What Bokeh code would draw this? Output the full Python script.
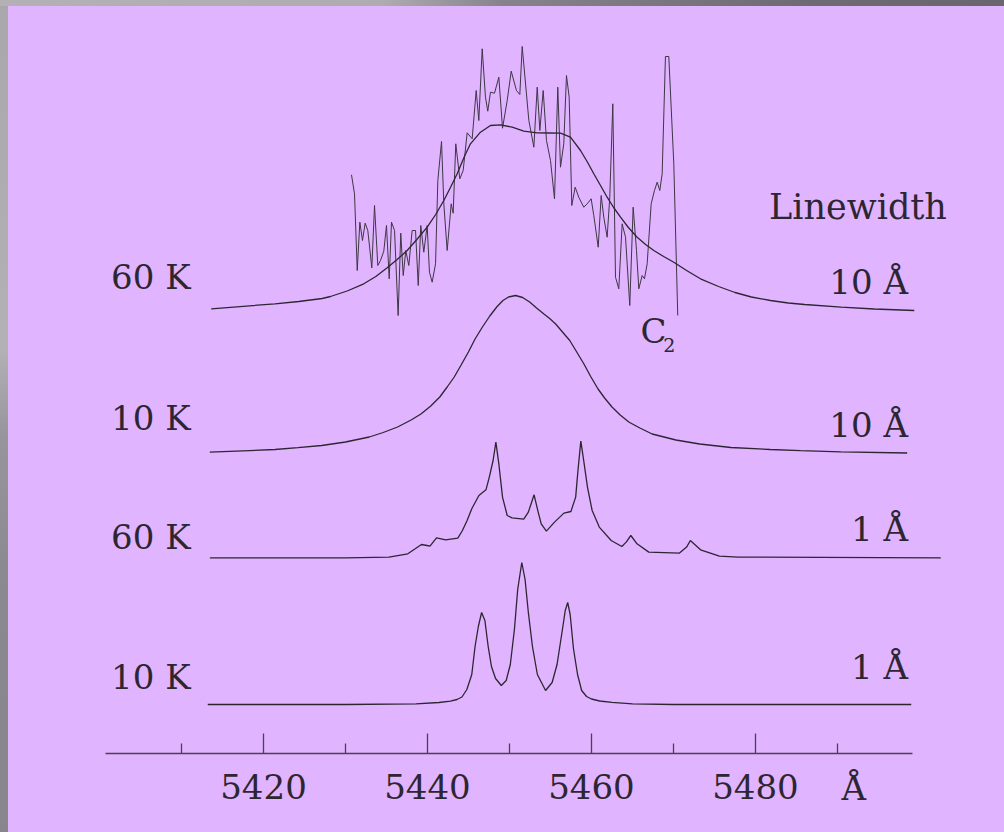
import numpy as np
from bokeh.embed import file_html
from bokeh.layouts import column
from bokeh.models import FixedTicker, Label, LinearAxis, NumeralTickFormatter, Range1d
from bokeh.plotting import figure
from bokeh.resources import INLINE

# ---------------------------------------------------------------- data
# Observed spectrum around the 5450 A band (arbitrary intensity units)
wl_obs = [5430.73, 5431.10, 5431.43, 5431.75, 5432.07, 5432.40, 5432.72, 5433.21, 5433.54, 5433.94,
          5434.27, 5434.67, 5435.00, 5435.33, 5435.61, 5435.98, 5436.42, 5436.74, 5437.04, 5437.35,
          5437.72, 5438.13, 5438.54, 5438.87, 5439.18, 5439.55, 5439.96, 5440.24, 5440.57, 5440.98,
          5441.26, 5441.71, 5441.99, 5442.40, 5442.89, 5443.13, 5443.45, 5443.94, 5444.35, 5444.84,
          5445.45, 5445.94, 5446.26, 5446.67, 5447.07, 5447.35, 5447.68, 5448.17, 5448.70, 5449.15,
          5449.72, 5450.21, 5450.85, 5451.26, 5451.55, 5452.36, 5452.97, 5453.38, 5453.70, 5454.11,
          5454.51, 5455.00, 5455.49, 5455.89, 5456.22, 5456.62, 5456.95, 5457.28, 5457.60, 5458.01,
          5458.45, 5459.06, 5459.48, 5459.96, 5460.28, 5460.82, 5461.18, 5461.50, 5461.91, 5462.23,
          5462.60, 5462.93, 5463.33, 5463.74, 5464.15, 5464.67, 5465.08, 5465.49, 5465.77, 5466.18,
          5466.46, 5466.79, 5467.28, 5467.68, 5468.01, 5468.33, 5468.62, 5469.02, 5469.43, 5470.04,
          5470.52]
int_obs = [137.7, 118.7, 42, 90.3, 72, 89.3, 82, 44.7, 107, 47,
           52, 61.3, 87, 33.7, 90.3, 82, -3, 79.3, 37, 62,
           47, 82, 82, 27, 87, 60.3, 87, 40.3, 30.3, 48.7,
           132, 171, 108.7, 62, 108.7, 99.3, 168.7, 133.7, 142, 179.7,
           173.7, 222, 192, 263.7, 215.3, 201.3, 220.3, 219.3, 235.3, 184.3,
           212, 241.3, 222, 218, 266, 192, 165.3, 225.3, 182, 222,
           172, 152, 113.7, 225.3, 145.3, 168.7, 237, 215.3, 107, 125.3,
           115.3, 105.3, 108.7, 113.7, 97, 65.3, 117, 95.3, 75.3, 115.3,
           208.7, 35.3, 23.7, 88.7, 75.3, 7, 105.3, 62, 23.7, 37,
           33.7, 48.7, 108.7, 122, 130.3, 122, 138.7, 256, 256, 148.7,
           -3]

# Model: 60 K, 10 A linewidth
wl_60k_10a = [5413.62, 5421.39, 5424.3, 5427.15, 5428.17, 5430.2, 5432.23, 5433.7, 5435.08, 5436.3,
              5437.52, 5438.7, 5439.96, 5441.0, 5441.99, 5442.8, 5443.62, 5444.5, 5445.24, 5446.46,
              5447.68, 5448.9, 5450.33, 5451.74, 5453.38, 5454.8, 5456.22, 5457.44, 5458.66, 5459.5,
              5460.28, 5461.1, 5461.91, 5462.7, 5463.54, 5464.5, 5465.57, 5466.6, 5467.6, 5468.8,
              5470.04, 5471.6, 5473.29, 5475.5, 5477.5, 5479.5, 5481.83, 5484.0, 5486.0, 5490.45,
              5494.5, 5499.37]
int_60k_10a = [3.7, 8.7, 11, 14, 16, 21.5, 28.7, 36, 44.7, 53,
               62, 73, 85.3, 98, 112, 125, 138.7, 156, 168.7, 180.3,
               187, 187.7, 185.3, 181.3, 179.7, 179.5, 179.3, 175.3, 162, 150.5,
               138.7, 127, 115.3, 105, 95.3, 85, 75.3, 68, 62, 56,
               50.3, 42, 33.7, 26, 20, 15.5, 12, 9.5, 8, 5.3,
               3.5, 2]

# Model: 10 K, 10 A linewidth
wl_10k_10a = [5413.45, 5421.4, 5424.2, 5427.1, 5430.0, 5432.9, 5434.6, 5436.35, 5438.0, 5439.2,
              5440.4, 5441.5, 5442.4, 5443.26, 5444.1, 5444.99, 5445.8, 5446.7, 5447.6, 5448.44,
              5449.2, 5449.88, 5450.74, 5451.6, 5452.46, 5453.3, 5454.2, 5454.9, 5455.63, 5457.35,
              5458.2, 5459.08, 5459.9, 5460.8, 5461.6, 5462.5, 5463.5, 5464.55, 5465.9, 5467.4,
              5470.3, 5473.2, 5477.0, 5481.8, 5485.5, 5490.4, 5498.5]
int_10k_10a = [0.8, 3.5, 5.3, 7.5, 11, 16, 20.5, 26, 33, 39,
               47, 56, 66, 76, 88, 101, 114, 126, 137, 146,
               152.5, 156, 157.5, 155.5, 151, 145, 139, 134.5, 129, 112.5,
               101, 89, 76.5, 64, 55, 46, 38, 31, 25, 19,
               13, 9, 5.5, 3.5, 2.3, 1.2, 0]

# Model: 60 K, 1 A linewidth
wl_60k_1a = [5413.46, 5430.0, 5435.3, 5437.6, 5438.5, 5439.26, 5439.94, 5440.3, 5441.1, 5441.67,
             5442.2, 5443.7, 5444.26, 5444.83, 5445.4, 5446.27, 5447.13, 5447.54, 5448.0, 5448.34,
             5448.7, 5449.15, 5449.72, 5450.3, 5451.74, 5452.3, 5453.0, 5453.46, 5453.87, 5454.5,
             5455.49, 5456.64, 5457.49, 5458.07, 5458.35, 5458.7, 5459.05, 5459.51, 5460.08, 5460.95,
             5462.4, 5463.7, 5464.23, 5464.8, 5465.55, 5466.99, 5470.73, 5471.6, 5472.06, 5473.3,
             5475.6, 5477.9, 5502.6]
int_60k_1a = [0, 0, 0.7, 4, 9, 13.3, 12.3, 11.7, 20, 19,
              18, 19.7, 27.3, 37.3, 49, 62.3, 68, 80.7, 97.3, 115.7,
              94, 60.7, 42.3, 40, 38.7, 45.7, 63, 47, 34, 26.7,
              35.7, 44.7, 46.3, 60.7, 87.3, 116.7, 97.3, 70.7, 47.3, 30.7,
              17.3, 11.3, 15.7, 22.3, 14, 5.7, 4.7, 10.7, 17.3, 8,
              1.7, 0.7, 0]

# Model: 10 K, 1 A linewidth
wl_10k_1a = [5413.2, 5430.0, 5438.6, 5441.4, 5442.8, 5443.6, 5444.2, 5444.8, 5445.4, 5445.8,
             5446.2, 5446.6, 5447.0, 5447.4, 5447.8, 5448.3, 5449.0, 5449.6, 5450.1, 5450.6,
             5451.0, 5451.5, 5451.9, 5452.3, 5452.8, 5453.4, 5454.4, 5455.2, 5455.8, 5456.4,
             5456.8, 5457.1, 5457.4, 5457.8, 5458.3, 5458.8, 5459.4, 5460.0, 5461.0, 5462.5,
             5465.0, 5470.0, 5499.0]
int_10k_1a = [0, 0, 0.7, 2, 3.3, 5, 7.5, 15, 30, 58,
              78, 92, 84, 58, 38, 26, 19, 24, 40, 75,
              115, 142, 125, 92, 58, 30, 14, 22, 40, 72,
              94, 102, 90, 56, 30, 14, 8, 5.5, 3.5, 2.2,
              0.7, 0, 0]

temperatures = ["60 K", "10 K", "60 K", "10 K"]
linewidths = ["10 Å", "10 Å", "1 Å", "1 Å"]
major_ticks = [5420, 5440, 5460, 5480]
minor_ticks = [5410, 5430, 5450, 5470, 5490]
unit_tick = 5492
unit_label = "Å"

# ---------------------------------------------------------------- layout
PURPLE = "#E0B4FE"
INK = "#2d2632"
AXIS = "#4a4250"
FONT = "DejaVu Serif"

baselines = [441.0, 300.5, 195.7, 49.0]     # vertical offset of each trace
temp_label_y = [477.0, 335.5, 217.0, 77.0]
width_label_y = [472.0, 329.0, 224.5, 87.0]

p = figure(width=996, height=826, margin=(6, 0, 0, 8),
           x_range=Range1d(5388.90, 5510.37), y_range=Range1d(0, 747),
           x_axis_type=None, y_axis_type=None,
           output_backend="svg", toolbar_location=None,
           min_border_left=0, min_border_right=0, min_border_top=0, min_border_bottom=79,
           background_fill_color=PURPLE, border_fill_color=PURPLE,
           outline_line_color=None, styles={"background-color": PURPLE})

# observed spectrum, drawn over the broad 60 K model
p.line(wl_obs, np.array(int_obs) + baselines[0], line_color="#3e3645", line_width=1.0)

models = [(wl_60k_10a, int_60k_10a), (wl_10k_10a, int_10k_10a),
          (wl_60k_1a, int_60k_1a), (wl_10k_1a, int_10k_1a)]
for (wl, inten), off in zip(models, baselines):
    p.line(wl, np.array(inten) + off, line_color=INK, line_width=1.3)

# wavelength axis with upward ticks
xaxis = LinearAxis(ticker=FixedTicker(ticks=major_ticks, minor_ticks=minor_ticks),
                   formatter=NumeralTickFormatter(format="0"),
                   bounds=(5400.7, 5499.15),
                   major_tick_in=20, major_tick_out=0,
                   minor_tick_in=10, minor_tick_out=0,
                   axis_line_color=AXIS, axis_line_width=1.5,
                   major_tick_line_color=AXIS, major_tick_line_width=1.3,
                   minor_tick_line_color=AXIS, minor_tick_line_width=1.3,
                   major_label_text_font=FONT, major_label_text_font_size="34px",
                   major_label_text_color=INK, major_label_standoff=20)
p.add_layout(xaxis, "below")

# unit of the wavelength axis, set on the same row as the tick labels
unit_axis = LinearAxis(ticker=FixedTicker(ticks=[unit_tick]),
                       major_label_overrides={unit_tick: unit_label},
                       axis_line_color=None, major_tick_line_color=None,
                       minor_tick_line_color=None,
                       major_tick_in=0, major_tick_out=0, minor_tick_in=0, minor_tick_out=0,
                       major_label_text_font=FONT, major_label_text_font_size="34px",
                       major_label_text_color=INK, major_label_standoff=-34)
p.add_layout(unit_axis, "below")


def add_text(x, y, txt, size="34px", align="left"):
    p.add_layout(Label(x=x, y=y, text=txt, text_font=FONT, text_font_size=size,
                       text_color=INK, text_align=align, text_baseline="alphabetic"))


for txt, y in zip(temperatures, temp_label_y):
    add_text(5411.10, y, txt, align="right")
for txt, y in zip(linewidths, width_label_y):
    add_text(5498.6, y, txt, align="right")
add_text(5492.5, 546.5, "Linewidth", size="35px", align="center")
add_text(5465.98, 422.5, "C")
add_text(5468.74, 409.0, "2", size="19px")

page = column(p, width=1004, height=832, styles={
    "background": ("linear-gradient(to right, #b3b1b6 0%, #aeacb1 38%, #86838b 50%, "
                   "#6e6b72 80%, #69666d 100%) top left / 100% 6px no-repeat, "
                   "linear-gradient(to bottom, #a9a7ac 0%, #b3b1b6 42%, #98969c 52%, "
                   "#8b8990 70%, #88868c 100%)"),
})

open("out.html", "w").write(file_html(page, INLINE))
